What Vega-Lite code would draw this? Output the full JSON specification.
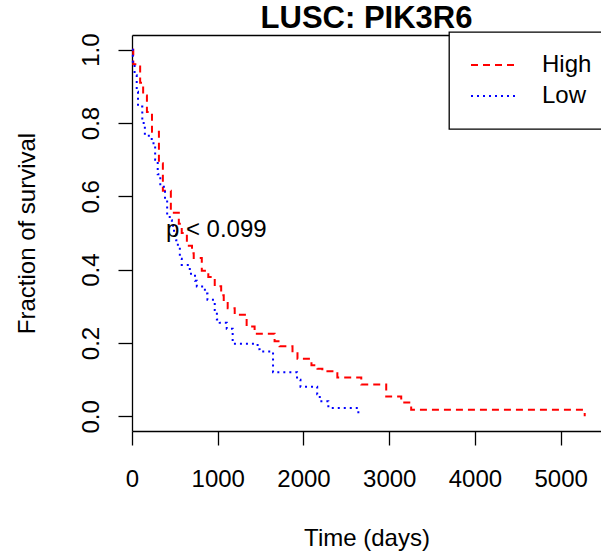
{
  "$schema": "https://vega.github.io/schema/vega-lite/v6.json",
  "autosize": {"type": "none"},
  "padding": {"left": 132, "top": 35, "right": 0, "bottom": 127},
  "width": 469,
  "height": 396,
  "background": "white",
  "title": {"text": "LUSC: PIK3R6", "fontSize": 31, "font": "Liberation Sans", "fontWeight": "bold", "anchor": "middle", "frame": "group", "baseline": "alphabetic", "offset": 8, "dy": 36, "color": "black"},
  "config": {
    "view": {"stroke": null},
    "axis": {"labelFont": "Liberation Sans", "titleFont": "Liberation Sans", "labelFontSize": 24, "titleFontSize": 24, "titleFontWeight": "normal", "labelColor": "black", "titleColor": "black", "domainColor": "black", "tickColor": "black", "domainWidth": 1.3, "tickWidth": 1.3, "grid": false, "labelFlush": false, "labelOverlap": false, "labelBound": false},
    "legend": {"orient": "none", "legendX": 317, "legendY": -3, "padding": 21, "strokeColor": "black", "strokeWidth": 1.3, "fillColor": "white", "symbolType": "stroke", "symbolSize": 2116, "symbolStrokeWidth": 2, "clipHeight": 24, "labelFont": "Liberation Sans", "labelFontSize": 24, "labelColor": "black", "labelOffset": 24, "rowPadding": 7, "title": null}
  },
  "resolve": {"axis": {"x": "independent"}},
  "layer": [
    {
      "data": {"values": [
        {"group": "High", "time": 0, "surv": 1.0},
        {"group": "High", "time": 15, "surv": 0.96},
        {"group": "High", "time": 95, "surv": 0.91},
        {"group": "High", "time": 130, "surv": 0.875},
        {"group": "High", "time": 174, "surv": 0.83},
        {"group": "High", "time": 233, "surv": 0.776},
        {"group": "High", "time": 314, "surv": 0.69},
        {"group": "High", "time": 360, "surv": 0.615},
        {"group": "High", "time": 453, "surv": 0.555},
        {"group": "High", "time": 546, "surv": 0.525},
        {"group": "High", "time": 580, "surv": 0.5},
        {"group": "High", "time": 640, "surv": 0.465},
        {"group": "High", "time": 700, "surv": 0.445},
        {"group": "High", "time": 720, "surv": 0.432},
        {"group": "High", "time": 814, "surv": 0.397},
        {"group": "High", "time": 890, "surv": 0.38},
        {"group": "High", "time": 965, "surv": 0.355},
        {"group": "High", "time": 1040, "surv": 0.33},
        {"group": "High", "time": 1070, "surv": 0.312},
        {"group": "High", "time": 1116, "surv": 0.295},
        {"group": "High", "time": 1198, "surv": 0.277},
        {"group": "High", "time": 1337, "surv": 0.245},
        {"group": "High", "time": 1430, "surv": 0.225},
        {"group": "High", "time": 1663, "surv": 0.205},
        {"group": "High", "time": 1721, "surv": 0.191},
        {"group": "High", "time": 1872, "surv": 0.175},
        {"group": "High", "time": 1930, "surv": 0.157},
        {"group": "High", "time": 2093, "surv": 0.139},
        {"group": "High", "time": 2163, "surv": 0.13},
        {"group": "High", "time": 2220, "surv": 0.123},
        {"group": "High", "time": 2395, "surv": 0.106},
        {"group": "High", "time": 2674, "surv": 0.087},
        {"group": "High", "time": 2965, "surv": 0.054},
        {"group": "High", "time": 3140, "surv": 0.038},
        {"group": "High", "time": 3256, "surv": 0.018},
        {"group": "High", "time": 5280, "surv": 0.0},
        {"group": "Low", "time": 0, "surv": 1.0},
        {"group": "Low", "time": 10, "surv": 0.96},
        {"group": "Low", "time": 30, "surv": 0.93},
        {"group": "Low", "time": 55, "surv": 0.885},
        {"group": "Low", "time": 70, "surv": 0.845},
        {"group": "Low", "time": 120, "surv": 0.8},
        {"group": "Low", "time": 150, "surv": 0.765},
        {"group": "Low", "time": 230, "surv": 0.745},
        {"group": "Low", "time": 270, "surv": 0.7},
        {"group": "Low", "time": 300, "surv": 0.66},
        {"group": "Low", "time": 330, "surv": 0.626},
        {"group": "Low", "time": 385, "surv": 0.59},
        {"group": "Low", "time": 410, "surv": 0.55},
        {"group": "Low", "time": 440, "surv": 0.535},
        {"group": "Low", "time": 465, "surv": 0.52},
        {"group": "Low", "time": 490, "surv": 0.5},
        {"group": "Low", "time": 515, "surv": 0.48},
        {"group": "Low", "time": 535, "surv": 0.462},
        {"group": "Low", "time": 558, "surv": 0.43},
        {"group": "Low", "time": 580, "surv": 0.413},
        {"group": "Low", "time": 674, "surv": 0.389},
        {"group": "Low", "time": 735, "surv": 0.37},
        {"group": "Low", "time": 756, "surv": 0.354},
        {"group": "Low", "time": 850, "surv": 0.335},
        {"group": "Low", "time": 880, "surv": 0.318},
        {"group": "Low", "time": 965, "surv": 0.29},
        {"group": "Low", "time": 990, "surv": 0.264},
        {"group": "Low", "time": 1023, "surv": 0.255},
        {"group": "Low", "time": 1105, "surv": 0.239},
        {"group": "Low", "time": 1174, "surv": 0.198},
        {"group": "Low", "time": 1465, "surv": 0.183},
        {"group": "Low", "time": 1488, "surv": 0.177},
        {"group": "Low", "time": 1645, "surv": 0.12},
        {"group": "Low", "time": 1925, "surv": 0.1},
        {"group": "Low", "time": 1965, "surv": 0.081},
        {"group": "Low", "time": 2160, "surv": 0.06},
        {"group": "Low", "time": 2190, "surv": 0.041},
        {"group": "Low", "time": 2290, "surv": 0.023},
        {"group": "Low", "time": 2640, "surv": 0.0}
      ]},
      "mark": {"type": "line", "interpolate": "step-after", "strokeWidth": 2},
      "encoding": {
        "x": {"field": "time", "type": "quantitative", "scale": {"domain": [0, 5470], "nice": false, "zero": false},
              "axis": {"orient": "bottom", "values": [0, 1000, 2000, 3000, 4000, 5000], "format": "d", "tickSize": 14, "labelPadding": 22, "labelBaseline": "top", "title": "Time (days)", "titleY": 114, "titleBaseline": "alphabetic"}},
        "y": {"field": "surv", "type": "quantitative", "scale": {"domain": [-0.04, 1.04], "nice": false, "zero": false},
              "axis": {"values": [0, 0.2, 0.4, 0.6, 0.8, 1.0], "format": ".1f", "tickSize": 14, "labelAngle": 270, "labelAlign": "center", "labelBaseline": "alphabetic", "labelPadding": 20, "title": "Fraction of survival", "titleAngle": 270, "titleX": -98, "titleBaseline": "alphabetic", "titleAlign": "center"}},
        "color": {"field": "group", "type": "nominal", "scale": {"domain": ["High", "Low"], "range": ["#FF0000", "#0000FF"]}, "legend": {"title": null}},
        "strokeDash": {"field": "group", "type": "nominal", "scale": {"domain": ["High", "Low"], "range": [[7, 5], [2, 4]]}, "legend": {"title": null}}
      }
    },
    {
      "data": {"values": [{"label": "p < 0.099"}]},
      "mark": {"type": "text", "font": "Liberation Sans", "fontSize": 24, "align": "center", "baseline": "middle", "color": "black"},
      "encoding": {
        "x": {"datum": 983, "type": "quantitative", "axis": {"orient": "top", "labels": false, "ticks": false, "title": null, "domain": true}},
        "y": {"datum": 0.508, "type": "quantitative"},
        "text": {"field": "label"}
      }
    }
  ]
}
